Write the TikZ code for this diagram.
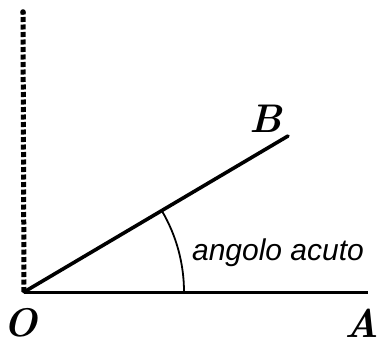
\documentclass[tikz,border=0pt]{standalone}
\usepackage{fontspec}
\newfontfamily\labelsans{Liberation Sans}
\begin{document}
\begin{tikzpicture}[x=1pt,y=-1pt,
  letter/.style={inner sep=0pt,anchor=base,font=\fontsize{40}{40}\selectfont\bfseries\itshape},
  side/.style={line width=3pt},
  ray/.style={line width=3.6pt},
  anglearc/.style={line width=1.8pt},
  vert/.style={line width=5pt,dash pattern=on 5pt off 2.5pt}]
\useasboundingbox (0,0) rectangle (382,345);
\coordinate (O) at (24,292);
\coordinate (Aend) at (368,292);
\coordinate (Bend) at (288,136);
\coordinate (Top) at (23,12);
\draw[side] (O) -- (Aend);
\draw[ray,line cap=round] (O) -- (Bend);
\draw[vert] (O) -- (Top);
\fill (Top) circle (2.8pt);
\draw[anglearc] ([shift={(0:160)}]O) arc[start angle=0,end angle=-30.5,radius=160];
\node[letter] (lb) at (266,132) {B};
\node[letter] (lo) at (21,336) {O};
\node[letter] (la) at (362,337) {A};
\node[inner sep=0pt,anchor=base,font=\labelsans\fontsize{30}{30}\selectfont\itshape] (lt) at (278,260) {angolo acuto};
\end{tikzpicture}
\end{document}
